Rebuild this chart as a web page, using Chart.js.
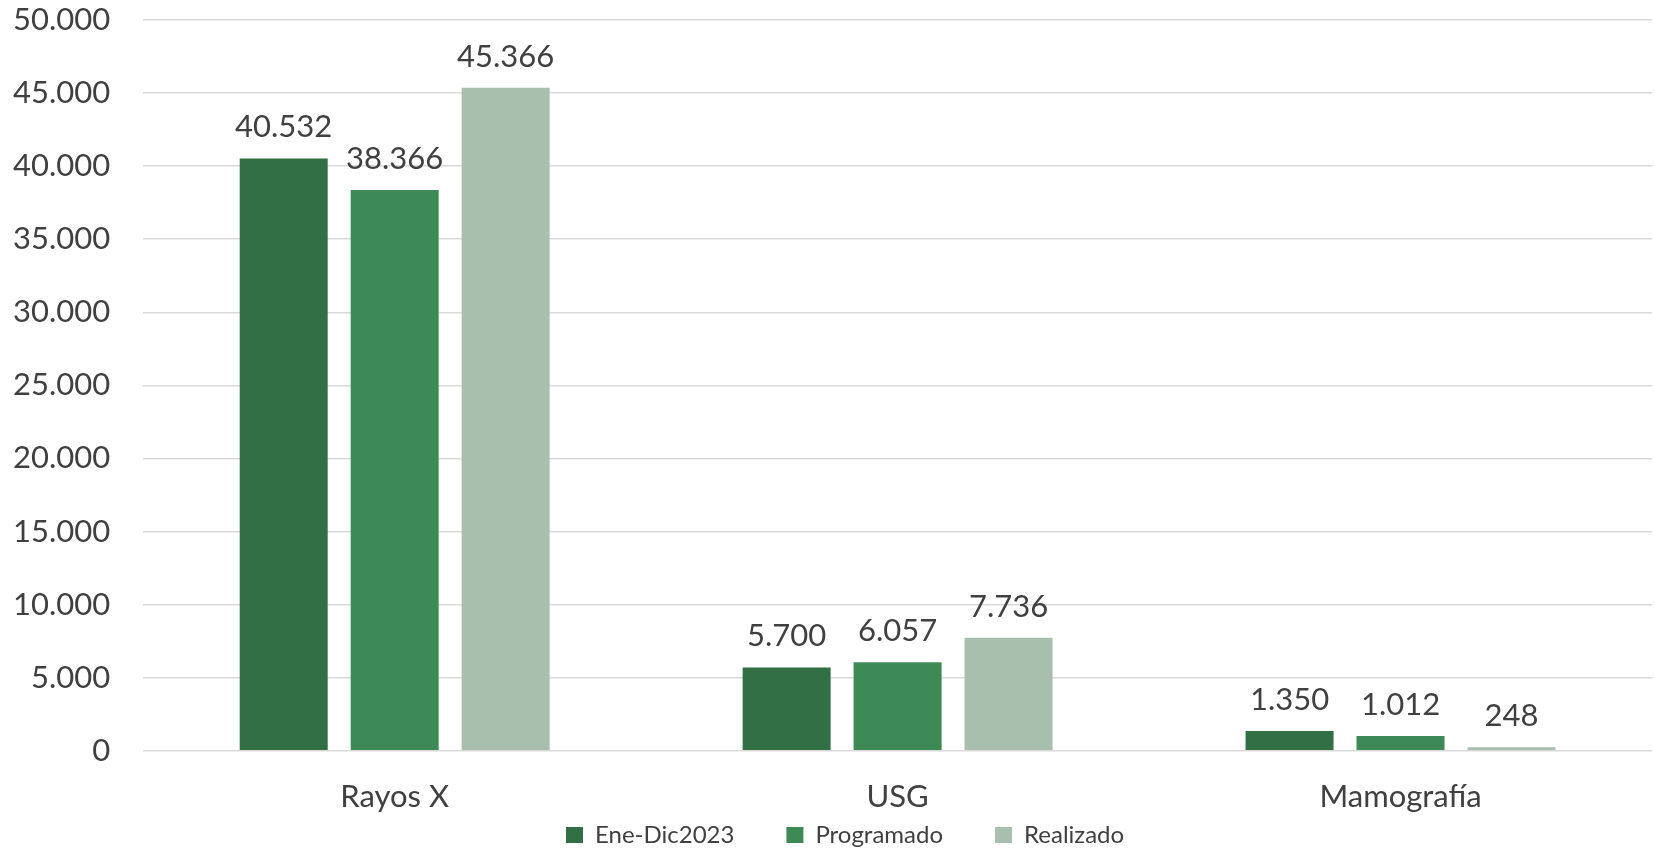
<!DOCTYPE html>
<html>
<head>
<meta charset="utf-8">
<script src="https://cdn.jsdelivr.net/npm/chart.js@4.4.0/dist/chart.umd.min.js"></script>
<style>
  html, body { margin: 0; padding: 0; background: #fff; }
  #wrap { width: 1655px; height: 849px; }
</style>
</head>
<body>
<div id="wrap"><canvas id="grafico" width="1655" height="849"></canvas></div>
<script>
const categorias = ['Rayos X', 'USG', 'Mamografía'];
const eneDic2023 = [40532, 5700, 1350];
const programado = [38366, 6057, 1012];
const realizado = [45366, 7736, 248];
const ticksY = [0, 5000, 10000, 15000, 20000, 25000, 30000, 35000, 40000, 45000, 50000];

const colorTexto = '#404040';
const fuente = 'Lato, "Open Sans", sans-serif';

function formatoMiles(v) {
    return String(v).replace(/\B(?=(\d{3})+(?!\d))/g, '.');
}

// etiquetas encima de cada barra
const etiquetasBarras = {
    id: 'etiquetasBarras',
    afterDatasetsDraw(chart) {
        const ctx = chart.ctx;
        ctx.save();
        ctx.font = '31px ' + fuente;
        ctx.fillStyle = colorTexto;
        ctx.textAlign = 'center';
        ctx.textBaseline = 'alphabetic';
        chart.data.datasets.forEach((ds, i) => {
            const meta = chart.getDatasetMeta(i);
            meta.data.forEach((bar, j) => {
                ctx.fillText(formatoMiles(ds.data[j]), bar.x, bar.y - 21);
            });
        });
        ctx.restore();
    }
};

// coloca la leyenda donde está en el original (primer cuadro en x=566, texto centrado en y=835)
const moverLeyenda = {
    id: 'moverLeyenda',
    afterLayout(chart) {
        const lg = chart.legend;
        const pad = lg.options.labels.padding;
        const w = lg.right - lg.left;
        lg.left = 566 - (w + pad - lg.lineWidths[0]) / 2;
        lg.right = lg.left + w;
        lg.top = 835 - 12 - pad;
        lg.bottom = 849;
    }
};

new Chart(document.getElementById('grafico'), {
    type: 'bar',
    data: {
        labels: categorias,
        datasets: [
            { label: 'Ene-Dic2023', data: eneDic2023, backgroundColor: '#336F44' },
            { label: 'Programado', data: programado, backgroundColor: '#3E8A56' },
            { label: 'Realizado', data: realizado, backgroundColor: '#A8BFAD' }
        ]
    },
    options: {
        responsive: false,
        animation: false,
        categoryPercentage: 0.662,
        barPercentage: 0.793,
        layout: { padding: { top: 20, right: 3, left: -20, bottom: -22 } },
        scales: {
            x: {
                grid: { display: false },
                border: { display: false },
                ticks: { color: colorTexto, font: { family: fuente, size: 31 }, padding: 20 }
            },
            y: {
                min: 0,
                max: 50000,
                afterBuildTicks(axis) {
                    axis.ticks = ticksY.map(v => ({ value: v }));
                },
                afterFit(axis) {
                    axis.paddingTop = 0;
                    axis.paddingBottom = 0;
                },
                grid: { color: '#D9D9D9', lineWidth: 1.5, drawTicks: false },
                border: { display: false },
                ticks: {
                    color: colorTexto,
                    font: { family: fuente, size: 31 },
                    padding: 33,
                    callback: v => formatoMiles(v)
                }
            }
        },
        plugins: {
            legend: {
                position: 'bottom',
                maxHeight: 35,
                labels: {
                    boxWidth: 17,
                    boxHeight: 16,
                    padding: 52,
                    color: colorTexto,
                    font: { family: fuente, size: 24 }
                }
            },
            tooltip: { enabled: false }
        }
    },
    plugins: [etiquetasBarras, moverLeyenda]
});
</script>
</body>
</html>
